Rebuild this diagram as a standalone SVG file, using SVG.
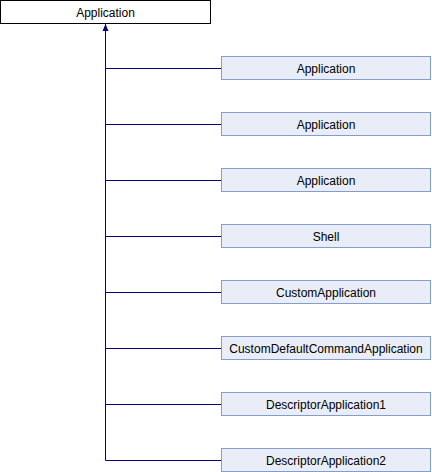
<svg xmlns="http://www.w3.org/2000/svg" width="432" height="472" viewBox="0 0 432 472">
<style>
.root{fill:#ffffff;stroke:#000000;stroke-width:1}
.cls{fill:#e8edf7;stroke:#849cce;stroke-width:1}
.lbl{font-family:"Liberation Sans",Arial,sans-serif;font-size:12px;fill:#000000;text-anchor:middle}
.edge{fill:none;stroke:#000080;stroke-width:1}
</style>
<defs>
<marker id="arr" markerWidth="6" markerHeight="7" refX="3" refY="0" orient="auto" markerUnits="userSpaceOnUse" viewBox="0 0 6 7">
<path d="M0,7 L3,0 L6,7 Z" fill="#000080"/>
</marker>
</defs>
<g id="connectors">
<path class="edge" d="M105.5,460.5 V23.5"/>
<polygon points="105.5,24 102.5,31 108.5,31" fill="#000080"/>
<path class="edge" d="M105.5,68.5 H221"/>
<path class="edge" d="M105.5,124.5 H221"/>
<path class="edge" d="M105.5,180.5 H221"/>
<path class="edge" d="M105.5,236.5 H221"/>
<path class="edge" d="M105.5,292.5 H221"/>
<path class="edge" d="M105.5,348.5 H221"/>
<path class="edge" d="M105.5,404.5 H221"/>
<path class="edge" d="M105.5,460.5 H221"/>
</g>
<g id="node-root"><rect class="root" x="0.5" y="0.5" width="210" height="23"/><text class="lbl" x="105.5" y="16.5">Application</text></g>
<g id="node-1"><rect class="cls" x="221.5" y="56.5" width="209" height="23"/><text class="lbl" x="326" y="72.5">Application</text></g>
<g id="node-2"><rect class="cls" x="221.5" y="112.5" width="209" height="23"/><text class="lbl" x="326" y="128.5">Application</text></g>
<g id="node-3"><rect class="cls" x="221.5" y="168.5" width="209" height="23"/><text class="lbl" x="326" y="184.5">Application</text></g>
<g id="node-4"><rect class="cls" x="221.5" y="224.5" width="209" height="23"/><text class="lbl" x="326" y="240.5">Shell</text></g>
<g id="node-5"><rect class="cls" x="221.5" y="280.5" width="209" height="23"/><text class="lbl" x="326" y="296.5">CustomApplication</text></g>
<g id="node-6"><rect class="cls" x="221.5" y="336.5" width="209" height="23"/><text class="lbl" x="326" y="352.5">CustomDefaultCommandApplication</text></g>
<g id="node-7"><rect class="cls" x="221.5" y="392.5" width="209" height="23"/><text class="lbl" x="326" y="408.5">DescriptorApplication1</text></g>
<g id="node-8"><rect class="cls" x="221.5" y="448.5" width="209" height="23"/><text class="lbl" x="326" y="464.5">DescriptorApplication2</text></g>
</svg>
